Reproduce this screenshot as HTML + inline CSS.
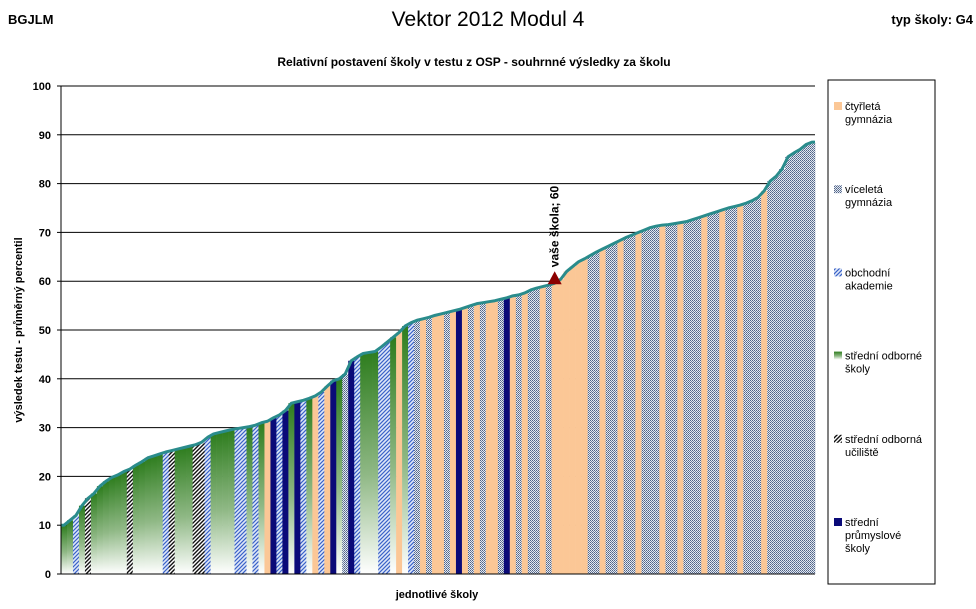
<!DOCTYPE html>
<html><head><meta charset="utf-8"><style>
body{margin:0;background:#fff;font-family:"Liberation Sans",Arial,sans-serif}
svg text{font-family:"Liberation Sans",Arial,sans-serif}
</style></head><body>
<svg id="c" width="976" height="604" viewBox="0 0 976 604" xmlns="http://www.w3.org/2000/svg">
<defs>
<linearGradient id="gG" x1="0" y1="0" x2="0" y2="1"><stop offset="0" stop-color="#2e7d1e"/><stop offset="0.55" stop-color="#8fb885"/><stop offset="1" stop-color="#ffffff"/></linearGradient>
<pattern id="pO" width="4" height="4" patternUnits="userSpaceOnUse"><rect width="4" height="4" fill="#dfe8f8"/><path d="M0,4L4,0M-1,1L1,-1M3,5L5,3" stroke="#3a62c8" stroke-width="1.2"/></pattern>
<pattern id="pU" width="4" height="4" patternUnits="userSpaceOnUse"><rect width="4" height="4" fill="#fff"/><path d="M0,4L4,0M-1,1L1,-1M3,5L5,3" stroke="#111" stroke-width="1.4"/></pattern>
<pattern id="pV" width="2" height="2" patternUnits="userSpaceOnUse"><rect width="2" height="2" fill="#e4e8ef"/><rect width="1" height="1" fill="#4f6387"/><rect x="1" y="1" width="1" height="1" fill="#6a7ea0"/></pattern>
</defs>
<text x="8" y="24" font-size="13" font-weight="bold">BGJLM</text>
<text x="488" y="26" font-size="21" text-anchor="middle">Vektor 2012 Modul 4</text>
<text x="973" y="24" font-size="13" font-weight="bold" text-anchor="end">typ školy: G4</text>
<text x="474" y="66" font-size="12" font-weight="bold" text-anchor="middle">Relativní postavení školy v testu z OSP - souhrnné výsledky za školu</text>
<g id="grid"></g>
<g id="bars"></g>
<g id="axis"></g>
<text x="437" y="598" font-size="11" font-weight="bold" text-anchor="middle">jednotlivé školy</text>
<text transform="translate(22,330) rotate(-90)" font-size="11" font-weight="bold" text-anchor="middle">výsledek testu - průměrný percentil</text>
<rect x="828" y="80" width="107" height="504" fill="#fff" stroke="#000" stroke-width="1"/>
<g id="legend"></g>
</svg>
<script>
const values=[10,11,12,14,15.5,16.5,18,19,19.8,20.3,21,21.5,22.3,23,23.8,24.2,24.6,25,25.3,25.6,25.9,26.2,26.5,27,28,28.7,29,29.3,29.6,29.8,30,30.2,30.5,31,31.3,32,32.6,33.5,35,35.3,35.6,36,36.5,37.3,38.5,39.6,40,41,43.7,44.5,45.2,45.4,45.6,46.5,47.5,48.5,49.5,50.8,51.5,52,52.3,52.6,53,53.3,53.6,53.9,54.2,54.6,55,55.4,55.6,55.8,56,56.3,56.6,57,57.2,57.6,58.2,58.6,58.9,59.2,59.6,60.4,62,63,64,64.6,65.3,66,66.6,67.2,67.8,68.4,69,69.5,70,70.5,71,71.3,71.5,71.6,71.8,72,72.2,72.6,73,73.4,73.8,74.2,74.6,75,75.3,75.6,76,76.5,77.2,78.5,80.5,81.5,83,85.5,86.3,87,88,88.5];
const categories=["S","S","O","S","U","S","S","S","S","S","S","U","S","S","S","S","S","O","U","S","S","S","U","U","O","S","S","S","S","O","O","S","O","S","C",
"P","O","P","S","P","O","S","C","O","C","P","S","V","P","O","S","S","S","O","O","S","C","S","O","V","C","V","C","C","V","C","P","C","V","C","V","C","C","V","P","C","V","C","V","V","C","V","C","C","C","C","C","C","V","V","C","V","V","C","V","V","C","V","V","V","C","V","V","C","V","V","V","C","V","V","C","V","V","C","V","V","V","C","V","V","V","V","V","V","V","V"];
const yTicks=[0,10,20,30,40,50,60,70,80,90,100];
const yourSchool=60, yourIndex=82;
const legendLabels=[["čtyřletá","gymnázia"],["víceletá","gymnázia"],["obchodní","akademie"],["střední odborné","školy"],["střední odborná","učiliště"],["střední","průmyslové","školy"]];
const legendCats=["C","V","O","S","U","P"];
const fills={S:"url(#gG)",U:"url(#pU)",O:"url(#pO)",P:"#0a0a78",C:"#fbc796",V:"url(#pV)"};
const X0=61,X1=815,Y0=574,Y1=86;
const ns="http://www.w3.org/2000/svg";
const bw=(X1-X0)/values.length;
function y(v){return Y0-(v/100)*(Y0-Y1);}
function x(i){return X0+i*bw;}
function mk(t,a,p){const e=document.createElementNS(ns,t);for(const k in a)e.setAttribute(k,a[k]);(p||document.getElementById("c")).appendChild(e);return e;}
const grid=document.getElementById("grid"),axis=document.getElementById("axis"),bars=document.getElementById("bars"),leg=document.getElementById("legend");
yTicks.forEach(t=>{
 if(t>0){const l=mk("line",{x1:X0,x2:X1,y1:y(t),y2:y(t),stroke:"#000","stroke-width":1},grid);
 
 }
 const tk=mk("line",{x1:X0-4,x2:X0,y1:y(t),y2:y(t),stroke:"#000"},axis);
 
 
 const tx=mk("text",{x:X0-10,y:y(t)+4,"font-size":11,"font-weight":"bold","text-anchor":"end"},axis);
 tx.textContent=t;
 
 
});
values.forEach((v,i)=>{
 const r=mk("rect",{x:x(i),y:y(v),width:bw+0.3,height:Y0-y(v),fill:fills[categories[i]]||fills.V},bars);
 
 
});
let d="M"+X0+","+y(values[0]);
values.forEach((v,i)=>{d+=" L"+(x(i)+bw/2)+","+y(v);});
d+=" L"+X1+","+y(values[values.length-1]);
const ln=mk("path",{d:d,fill:"none",stroke:"#2a8c8c","stroke-width":3,"stroke-linejoin":"round"},bars);


const ax=mk("line",{x1:X0,x2:X0,y1:Y1,y2:Y0,stroke:"#000"},axis);


const bx=mk("line",{x1:X0,x2:X1,y1:Y0,y2:Y0,stroke:"#000"},axis);


const mx=x(yourIndex)+bw/2,my=y(yourSchool);
const tri=mk("path",{d:`M${mx},${my-10}L${mx-7},${my+3}L${mx+7},${my+3}Z`,fill:"#8b0000"},axis);


const ml=mk("text",{transform:`translate(${mx+4},${my-14}) rotate(-90)`,"font-size":12,"font-weight":"bold"},axis);
ml.textContent="vaše škola; "+yourSchool;


legendCats.forEach((c,k)=>{
 const yy=107+k*83.2;
 const sw=mk("rect",{x:834,y:yy-5,width:8,height:8,fill:fills[c]},leg);
 
 
 const t=mk("text",{x:845,y:yy+3,"font-size":11},leg);
 
 
 legendLabels[k].forEach((s,j)=>{const ts=mk("tspan",{x:845,dy:j?13:0},t);ts.textContent=s;});
});
</script>
</body></html>
